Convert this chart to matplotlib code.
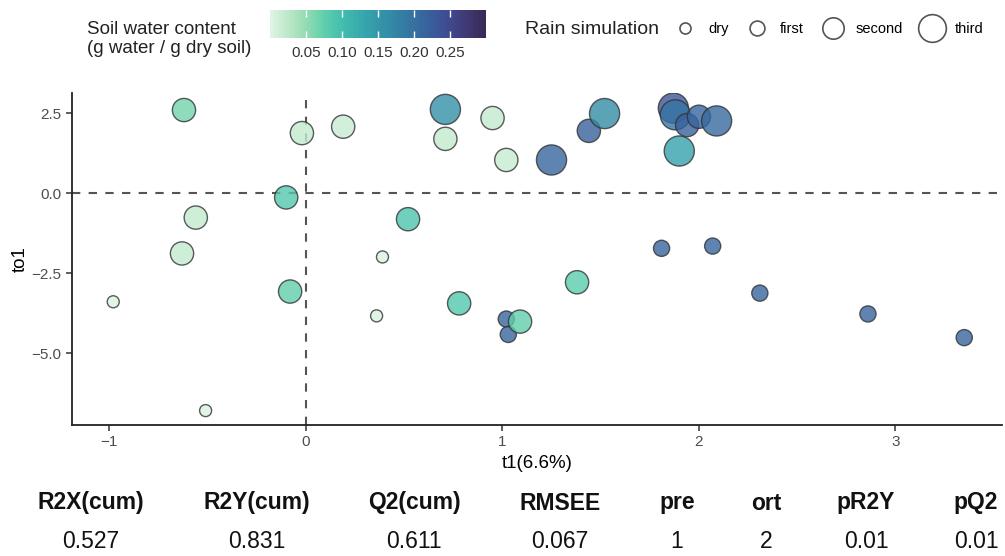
import numpy as np
import matplotlib
matplotlib.use("Agg")
import matplotlib.pyplot as plt
import seaborn as sns
from matplotlib.colors import ListedColormap, Normalize
from matplotlib.lines import Line2D

plt.rcParams['font.family'] = ['Liberation Sans', 'DejaVu Sans']

# OPLS-DA scores
t1 = [-0.62, -0.02, 0.19, 0.71, 0.71, 0.95, 1.02, 1.25, 1.44, 1.52,
      1.87, 1.88, 1.94, 2.00, 2.09, 1.90, -0.56, -0.10, 0.52, -0.63,
      0.39, 1.81, 2.07, -0.98, -0.08, 0.36, 0.78, 1.02, 1.03, 1.09,
      1.38, 2.31, 2.86, 3.35, -0.51]
to1 = [2.60, 1.88, 2.08, 2.62, 1.70, 2.35, 1.04, 1.04, 1.95, 2.49,
       2.66, 2.45, 2.13, 2.39, 2.26, 1.32, -0.76, -0.13, -0.81, -1.88,
       -1.99, -1.72, -1.65, -3.39, -3.07, -3.83, -3.44, -3.93, -4.41, -4.01,
       -2.78, -3.12, -3.77, -4.51, -6.79]
swc = [0.065, 0.020, 0.018, 0.160, 0.020, 0.020, 0.018, 0.215, 0.220, 0.165,
       0.235, 0.195, 0.220, 0.215, 0.210, 0.135, 0.020, 0.085, 0.090, 0.020,
       0.004, 0.215, 0.215, 0.004, 0.075, 0.004, 0.085, 0.215, 0.215, 0.075,
       0.080, 0.215, 0.215, 0.215, 0.004]
rain = ['second', 'second', 'second', 'third', 'second', 'second', 'second', 'third', 'second', 'third',
        'third', 'third', 'second', 'second', 'third', 'third', 'second', 'second', 'second', 'second',
        'dry', 'first', 'first', 'dry', 'second', 'dry', 'second', 'first', 'first', 'second',
        'second', 'first', 'first', 'first', 'dry']

rain_levels = ['dry', 'first', 'second', 'third']
cbar_ticks = [0.05, 0.10, 0.15, 0.20, 0.25]

# model summary table
tab_head = ['R2X(cum)', 'R2Y(cum)', 'Q2(cum)', 'RMSEE', 'pre', 'ort', 'pR2Y', 'pQ2']
tab_vals = ['0.527', '0.831', '0.611', '0.067', '1', '2', '0.01', '0.01']

size_map = {'dry': 75, 'first': 135, 'second': 280, 'third': 470}

mako = sns.color_palette("mako", as_cmap=True)
cmap = ListedColormap(mako(np.linspace(1.0, 0.2, 256)))
norm = Normalize(0.0, 0.30)

fig = plt.figure(figsize=(10.05, 5.56), dpi=100)
ax = fig.add_axes([0.0716, 0.2356, 0.925, 0.597])

ax.axhline(0, color='#555555', lw=1.5, ls=(0, (4, 4)), zorder=1)
ax.axvline(0, color='#555555', lw=1.5, ls=(0, (4, 4)), zorder=1)

sizes = [size_map[r] for r in rain]
sc = ax.scatter(t1, to1, s=sizes, c=swc, cmap=cmap, norm=norm,
                alpha=0.8, edgecolors='#333333', linewidths=1.0, zorder=2)

ax.set_xlim(-1.19, 3.54)
ax.set_ylim(-7.24, 3.13)
ax.set_xticks([-1, 0, 1, 2, 3])
ax.set_yticks([2.5, 0.0, -2.5, -5.0])
ax.set_yticklabels(['2.5', '0.0', '\u22122.5', '\u22125.0'])
ax.set_xticklabels(['\u22121', '0', '1', '2', '3'])
for s in ['top', 'right']:
    ax.spines[s].set_visible(False)
for s in ['left', 'bottom']:
    ax.spines[s].set_linewidth(1.3)
    ax.spines[s].set_color('#222222')
ax.tick_params(length=4, width=1.1, color='#333333', labelcolor='#4d4d4d', labelsize=11)
ax.set_xlabel('t1(6.6%)', fontsize=13.5, labelpad=4)
ax.set_ylabel('to1', fontsize=13.5, labelpad=2)

# colour legend
fig.text(87/1005, 1 - 39/556, 'Soil water content\n(g water / g dry soil)',
         fontsize=13.5, va='center', ha='left', color='#222222', linespacing=1.15)
cax = fig.add_axes([270/1005, 1 - 38/556, 216/1005, 28/556])
cb = fig.colorbar(sc, cax=cax, orientation='horizontal', ticks=cbar_ticks)
cb.solids.set_alpha(1)
cb.outline.set_visible(False)
cax.tick_params(direction='in', color='white', length=5, width=1, top=True, bottom=True,
                labelsize=11, labelcolor='#333333', pad=6)
cax.set_xticklabels(['%.2f' % v for v in cbar_ticks])

# size legend
fig.text(525/1005, 1 - 29/556, 'Rain simulation', fontsize=14, va='center', ha='left', color='#222222')
handles = [Line2D([], [], ls='none', marker='o', markersize=np.sqrt(size_map[r]) * 0.92,
                  mfc='white', mec='#555555', mew=1.2) for r in rain_levels]
fig.legend(handles, rain_levels, ncol=4, loc='center left', frameon=False,
           bbox_to_anchor=(670/1005, 1 - 29/556), fontsize=10.5,
           handletextpad=0.6, columnspacing=0.95, handlelength=2.0, borderpad=0,
           borderaxespad=0)

# summary table
col_x = [91, 257, 414, 560, 677, 766, 866, 976]
for cx, h, v in zip(col_x, tab_head, tab_vals):
    fig.text(cx / 1005, 1 - 503/556, h, ha='center', va='center', fontsize=16.5, fontweight='bold', color='#111111')
    fig.text(cx / 1005, 1 - 542/556, v, ha='center', va='center', fontsize=16.5, color='#111111')

fig.savefig('out.png', dpi=100)
